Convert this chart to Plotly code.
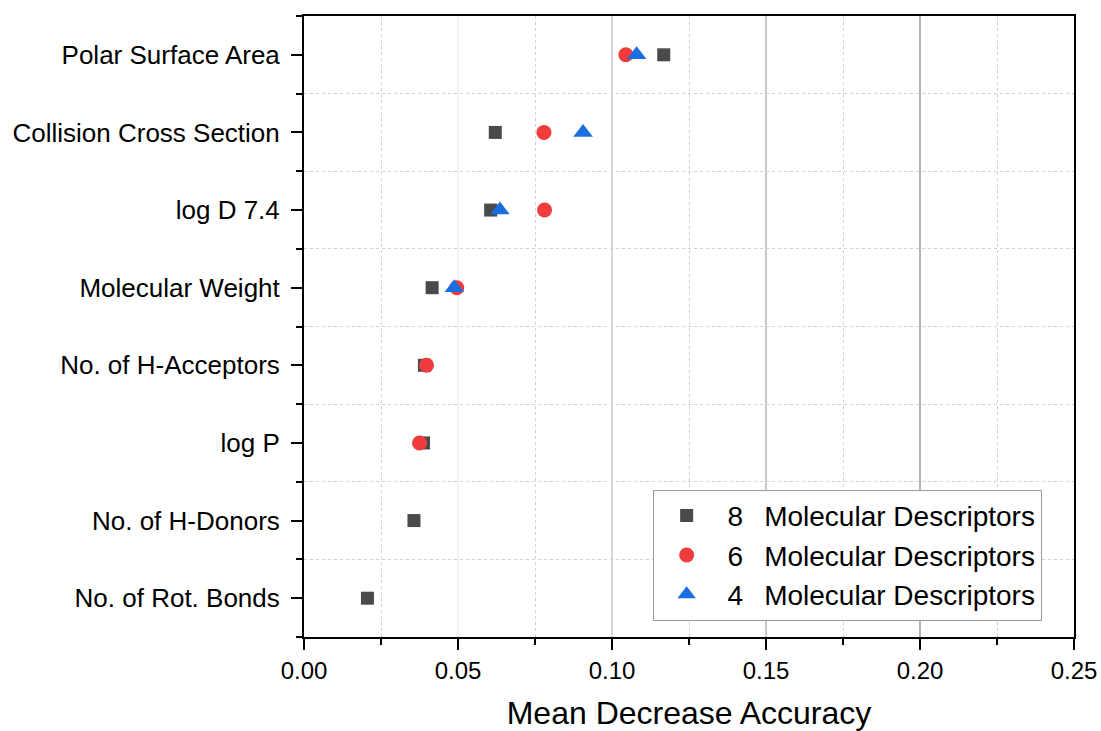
import plotly.graph_objects as go

categories = ["Polar Surface Area", "Collision Cross Section", "log D 7.4",
              "Molecular Weight", "No. of H-Acceptors", "log P",
              "No. of H-Donors", "No. of Rot. Bonds"]
desc8 = [0.1168, 0.0621, 0.0606, 0.0416, 0.0391, 0.0388, 0.0357, 0.0206]
desc6 = [0.1045, 0.0779, 0.0781, 0.0496, 0.0398, 0.0375, None, None]
desc4 = [0.1080, 0.0906, 0.0636, 0.0488, None, None, None, None]
series_names = ["\u00a08\u00a0\u00a0\u2009Molecular Descriptors",
                "\u00a06\u00a0\u00a0\u2009Molecular Descriptors",
                "\u00a04\u00a0\u00a0\u2009Molecular Descriptors"]
x_ticks = [0.0, 0.05, 0.10, 0.15, 0.20, 0.25]
x_title = "Mean Decrease Accuracy"

ypos = list(range(len(categories)))
FONT = "Arial, Liberation Sans, sans-serif"

fig = go.Figure()
styles = [
    dict(symbol="square", size=13, color="#4a4a4a"),
    dict(symbol="circle", size=15, color="#f03c3c"),
    dict(symbol="triangle-up", size=17, color="#1a6fe0"),
]
for name, vals, st in zip(series_names, [desc8, desc6, desc4], styles):
    fig.add_trace(go.Scatter(
        x=vals, y=ypos, mode="markers", name=name,
        marker=dict(symbol=st["symbol"], size=st["size"], color=st["color"],
                    line=dict(width=0)),
    ))

grid_colors = ["#ffffff", "#ececec", "#c2c2c2", "#adadad", "#8e8e8e", "#ffffff"]
for xv, gc in zip(x_ticks[1:-1], grid_colors[1:-1]):
    fig.add_shape(type="line", xref="x", yref="paper", x0=xv, x1=xv, y0=0, y1=1,
                  line=dict(color=gc, width=1.3), layer="below")

fig.update_layout(
    width=1101, height=731,
    margin=dict(l=304, r=27, t=16, b=94),
    paper_bgcolor="white", plot_bgcolor="white",
    font=dict(family=FONT, color="black"),
    showlegend=True,
    legend=dict(
        x=0.958, y=0.026, xanchor="right", yanchor="bottom",
        bgcolor="white", bordercolor="#9a9a9a", borderwidth=1,
        font=dict(size=28, family=FONT, color="black"),
        itemwidth=56, tracegroupgap=0,
    ),
    xaxis=dict(
        range=[0, 0.25], tickvals=x_ticks, tickformat=".2f",
        showgrid=False, zeroline=False, automargin=False,
        showline=True, linecolor="black", linewidth=2, mirror=True,
        ticks="outside", ticklen=11, tickwidth=2, tickcolor="black",
        tickfont=dict(size=24, family=FONT),
        minor=dict(tickmode="linear", tick0=0.025, dtick=0.05, ticks="outside",
                   ticklen=6, tickwidth=2, tickcolor="black",
                   showgrid=True, gridcolor="#d0d0d0", griddash="dot", gridwidth=1),
        title=dict(text=x_title, font=dict(size=32, family=FONT), standoff=25),
    ),
    yaxis=dict(
        range=[len(categories) - 0.5, -0.5], tickvals=ypos, ticktext=categories,
        showgrid=False, zeroline=False, automargin=False,
        showline=True, linecolor="black", linewidth=2, mirror=True,
        ticks="outside", ticklen=11, tickwidth=2, tickcolor="black",
        tickfont=dict(size=26, family=FONT),
        ticklabelstandoff=6,
        minor=dict(tickmode="linear", tick0=0.5, dtick=1, ticks="outside",
                   ticklen=6, tickwidth=2, tickcolor="black",
                   showgrid=True, gridcolor="#d0d0d0", griddash="dot", gridwidth=1),
    ),
)

fig.write_html("out.html")
